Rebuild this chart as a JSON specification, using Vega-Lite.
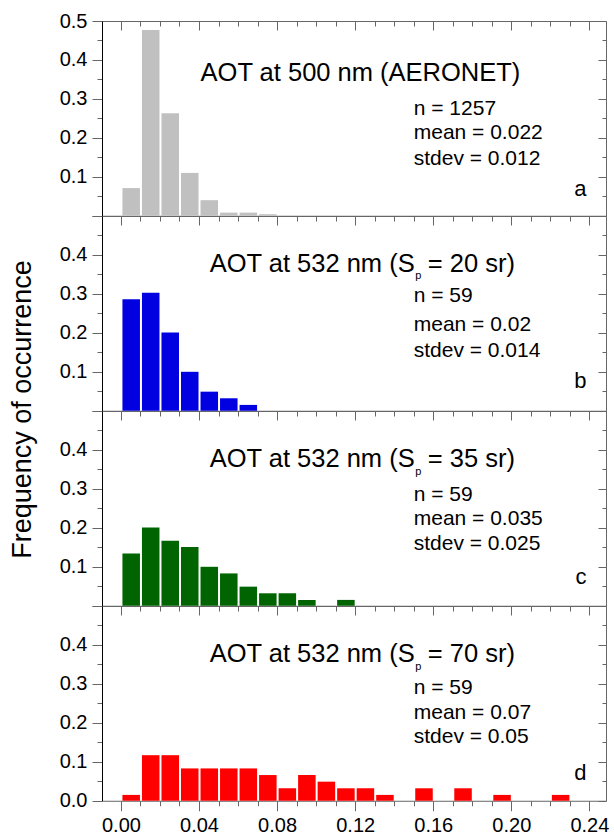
{
  "$schema": "https://vega.github.io/schema/vega-lite/v6.json",
  "background": "white",
  "padding": {"left": 7, "top": 10, "right": 4, "bottom": 0},
  "spacing": 0,
  "bounds": "flush",
  "config": {
    "view": {"stroke": "#666666", "strokeWidth": 1},
    "text": {"font": "Liberation Sans", "color": "black"},
    "axis": {"labelFont": "Liberation Sans", "titleFont": "Liberation Sans"}
  },
  "vconcat": [
    {
      "width": 504, "height": 194.75,
      "resolve": {"axis": {"x": "independent", "y": "independent"}},
      "layer": [
        {
          "data": {"values": [
            {"start": 0.00, "end": 0.01, "freq": 0.071},
            {"start": 0.01, "end": 0.02, "freq": 0.477},
            {"start": 0.02, "end": 0.03, "freq": 0.263},
            {"start": 0.03, "end": 0.04, "freq": 0.110},
            {"start": 0.04, "end": 0.05, "freq": 0.040},
            {"start": 0.05, "end": 0.06, "freq": 0.008},
            {"start": 0.06, "end": 0.07, "freq": 0.008},
            {"start": 0.07, "end": 0.08, "freq": 0.004}
          ]},
          "mark": {"type": "bar", "color": "#c0c0c0", "binSpacing": 2},
          "encoding": {
            "x": {"field": "start", "type": "quantitative", "bin": {"binned": true, "step": 0.01},
              "scale": {"domain": [-0.0097, 0.2485], "nice": false, "zero": false},
              "axis": {"orient": "top", "values": [0,0.01,0.02,0.03,0.04,0.05,0.06,0.07,0.08,0.09,0.1,0.11,0.12,0.13,0.14,0.15,0.16,0.17,0.18,0.19,0.2,0.21,0.22,0.23,0.24], "labels": false, "domain": false, "grid": false, "title": null, "tickColor": "#666666", "tickSize": {"condition": {"test": "round(datum.value*100)%4===0", "value": -9}, "value": -5}}},
            "x2": {"field": "end"},
            "y": {"field": "freq", "type": "quantitative",
              "scale": {"domain": [0, 0.5], "nice": false},
              "axis": {"orient": "left", "values": [0,0.05,0.1,0.15,0.2,0.25,0.3,0.35,0.4,0.45,0.5], "title": null, "grid": false, "domainColor": "black", "domainWidth": 1, "tickColor": "#666666", "tickSize": {"condition": {"test": "round(datum.value*100)%10===0", "value": 10}, "value": 5}, "labelExpr": "round(datum.value*100)%10===0 && datum.value>0.01 ? format(datum.value,'.1f') : ''", "labelFontSize": 20, "labelColor": "black", "labelPadding": 5, "labelOverlap": false, "labelFlush": false, "labelBound": false}}
          }
        },
        {
          "data": {"values": [
            {"x": 0.15, "y": 0.2595, "t": "n = 1257"},
            {"x": 0.15, "y": 0.197, "t": "mean = 0.022"},
            {"x": 0.15, "y": 0.131, "t": "stdev = 0.012"}
          ]},
          "mark": {"type": "text", "align": "left", "baseline": "alphabetic", "fontSize": 21},
          "encoding": {
            "x": {"field": "x", "type": "quantitative", "scale": {"domain": [-0.0097, 0.2485], "nice": false, "zero": false}, "axis": null},
            "y": {"field": "y", "type": "quantitative", "scale": {"domain": [0, 0.5], "nice": false},
              "axis": {"orient": "right", "values": [0,0.05,0.1,0.15,0.2,0.25,0.3,0.35,0.4,0.45,0.5], "title": null, "grid": false, "domain": false, "labels": false, "tickColor": "#666666", "tickSize": {"condition": {"test": "round(datum.value*100)%10===0", "value": -8}, "value": -4}}},
            "text": {"field": "t"}
          }
        },
        {
          "data": {"values": [{"x": 0.1227, "y": 0.345, "t": "AOT at 500 nm (AERONET)"}]},
          "mark": {"type": "text", "align": "center", "baseline": "alphabetic", "fontSize": 25.5},
          "encoding": {
            "x": {"field": "x", "type": "quantitative", "scale": {"domain": [-0.0097, 0.2485], "nice": false, "zero": false}, "axis": null},
            "y": {"field": "y", "type": "quantitative", "scale": {"domain": [0, 0.5], "nice": false}, "axis": null},
            "text": {"field": "t"}
          }
        },
        {
          "data": {"values": [{"x": 0.2385, "y": 0.051, "t": "a"}]},
          "mark": {"type": "text", "align": "right", "baseline": "alphabetic", "fontSize": 22},
          "encoding": {
            "x": {"field": "x", "type": "quantitative", "scale": {"domain": [-0.0097, 0.2485], "nice": false, "zero": false}, "axis": null},
            "y": {"field": "y", "type": "quantitative", "scale": {"domain": [0, 0.5], "nice": false}, "axis": null},
            "text": {"field": "t"}
          }
        }
      ]
    },
    {
      "width": 504, "height": 194.75,
      "resolve": {"axis": {"x": "independent", "y": "independent"}},
      "layer": [
        {
          "data": {"values": [
            {"start": 0.00, "end": 0.01, "freq": 0.286},
            {"start": 0.01, "end": 0.02, "freq": 0.303},
            {"start": 0.02, "end": 0.03, "freq": 0.201},
            {"start": 0.03, "end": 0.04, "freq": 0.100},
            {"start": 0.04, "end": 0.05, "freq": 0.049},
            {"start": 0.05, "end": 0.06, "freq": 0.032},
            {"start": 0.06, "end": 0.07, "freq": 0.015}
          ]},
          "mark": {"type": "bar", "color": "#0000e0", "binSpacing": 2},
          "encoding": {
            "x": {"field": "start", "type": "quantitative", "bin": {"binned": true, "step": 0.01},
              "scale": {"domain": [-0.0097, 0.2485], "nice": false, "zero": false},
              "axis": {"orient": "top", "values": [0,0.01,0.02,0.03,0.04,0.05,0.06,0.07,0.08,0.09,0.1,0.11,0.12,0.13,0.14,0.15,0.16,0.17,0.18,0.19,0.2,0.21,0.22,0.23,0.24], "labels": false, "domain": false, "grid": false, "title": null, "tickColor": "#666666", "tickSize": {"condition": {"test": "round(datum.value*100)%4===0", "value": -9}, "value": -5}}},
            "x2": {"field": "end"},
            "y": {"field": "freq", "type": "quantitative",
              "scale": {"domain": [0, 0.5], "nice": false},
              "axis": {"orient": "left", "values": [0,0.05,0.1,0.15,0.2,0.25,0.3,0.35,0.4,0.45,0.5], "title": "Frequency of occurrence", "titleFontSize": 27, "titleFontWeight": "normal", "titleColor": "black", "titleX": -66, "titleY": 193, "grid": false, "domainColor": "black", "domainWidth": 1, "tickColor": "#666666", "tickSize": {"condition": {"test": "round(datum.value*100)%10===0", "value": 10}, "value": 5}, "labelExpr": "round(datum.value*100)%10===0 && datum.value>0.01 && datum.value<0.49 ? format(datum.value,'.1f') : ''", "labelFontSize": 20, "labelColor": "black", "labelPadding": 5, "labelOverlap": false, "labelFlush": false, "labelBound": false}}
          }
        },
        {
          "data": {"values": [
            {"x": 0.15, "y": 0.279, "t": "n = 59"},
            {"x": 0.15, "y": 0.204, "t": "mean = 0.02"},
            {"x": 0.15, "y": 0.137, "t": "stdev = 0.014"}
          ]},
          "mark": {"type": "text", "align": "left", "baseline": "alphabetic", "fontSize": 21},
          "encoding": {
            "x": {"field": "x", "type": "quantitative", "scale": {"domain": [-0.0097, 0.2485], "nice": false, "zero": false}, "axis": null},
            "y": {"field": "y", "type": "quantitative", "scale": {"domain": [0, 0.5], "nice": false},
              "axis": {"orient": "right", "values": [0,0.05,0.1,0.15,0.2,0.25,0.3,0.35,0.4,0.45,0.5], "title": null, "grid": false, "domain": false, "labels": false, "tickColor": "#666666", "tickSize": {"condition": {"test": "round(datum.value*100)%10===0", "value": -8}, "value": -4}}},
            "text": {"field": "t"}
          }
        },
        {
          "data": {"values": [{"x": 0.1505, "y": 0.356, "t": "AOT at 532 nm (S"}]},
          "mark": {"type": "text", "align": "right", "baseline": "alphabetic", "fontSize": 25.5},
          "encoding": {
            "x": {"field": "x", "type": "quantitative", "scale": {"domain": [-0.0097, 0.2485], "nice": false, "zero": false}, "axis": null},
            "y": {"field": "y", "type": "quantitative", "scale": {"domain": [0, 0.5], "nice": false}, "axis": null},
            "text": {"field": "t"}
          }
        },
        {
          "data": {"values": [{"x": 0.1505, "y": 0.356, "t": "p"}]},
          "mark": {"type": "text", "align": "left", "baseline": "alphabetic", "fontSize": 11, "dx": 0.5, "dy": 7},
          "encoding": {
            "x": {"field": "x", "type": "quantitative", "scale": {"domain": [-0.0097, 0.2485], "nice": false, "zero": false}, "axis": null},
            "y": {"field": "y", "type": "quantitative", "scale": {"domain": [0, 0.5], "nice": false}, "axis": null},
            "text": {"field": "t"}
          }
        },
        {
          "data": {"values": [{"x": 0.1572, "y": 0.356, "t": "= 20 sr)"}]},
          "mark": {"type": "text", "align": "left", "baseline": "alphabetic", "fontSize": 25.5},
          "encoding": {
            "x": {"field": "x", "type": "quantitative", "scale": {"domain": [-0.0097, 0.2485], "nice": false, "zero": false}, "axis": null},
            "y": {"field": "y", "type": "quantitative", "scale": {"domain": [0, 0.5], "nice": false}, "axis": null},
            "text": {"field": "t"}
          }
        },
        {
          "data": {"values": [{"x": 0.2385, "y": 0.058, "t": "b"}]},
          "mark": {"type": "text", "align": "right", "baseline": "alphabetic", "fontSize": 22},
          "encoding": {
            "x": {"field": "x", "type": "quantitative", "scale": {"domain": [-0.0097, 0.2485], "nice": false, "zero": false}, "axis": null},
            "y": {"field": "y", "type": "quantitative", "scale": {"domain": [0, 0.5], "nice": false}, "axis": null},
            "text": {"field": "t"}
          }
        }
      ]
    },
    {
      "width": 504, "height": 194.75,
      "resolve": {"axis": {"x": "independent", "y": "independent"}},
      "layer": [
        {
          "data": {"values": [
            {"start": 0.00, "end": 0.01, "freq": 0.134},
            {"start": 0.01, "end": 0.02, "freq": 0.201},
            {"start": 0.02, "end": 0.03, "freq": 0.167},
            {"start": 0.03, "end": 0.04, "freq": 0.151},
            {"start": 0.04, "end": 0.05, "freq": 0.100},
            {"start": 0.05, "end": 0.06, "freq": 0.083},
            {"start": 0.06, "end": 0.07, "freq": 0.049},
            {"start": 0.07, "end": 0.08, "freq": 0.032},
            {"start": 0.08, "end": 0.09, "freq": 0.032},
            {"start": 0.09, "end": 0.10, "freq": 0.015},
            {"start": 0.11, "end": 0.12, "freq": 0.015}
          ]},
          "mark": {"type": "bar", "color": "#006400", "binSpacing": 2},
          "encoding": {
            "x": {"field": "start", "type": "quantitative", "bin": {"binned": true, "step": 0.01},
              "scale": {"domain": [-0.0097, 0.2485], "nice": false, "zero": false},
              "axis": {"orient": "top", "values": [0,0.01,0.02,0.03,0.04,0.05,0.06,0.07,0.08,0.09,0.1,0.11,0.12,0.13,0.14,0.15,0.16,0.17,0.18,0.19,0.2,0.21,0.22,0.23,0.24], "labels": false, "domain": false, "grid": false, "title": null, "tickColor": "#666666", "tickSize": {"condition": {"test": "round(datum.value*100)%4===0", "value": -9}, "value": -5}}},
            "x2": {"field": "end"},
            "y": {"field": "freq", "type": "quantitative",
              "scale": {"domain": [0, 0.5], "nice": false},
              "axis": {"orient": "left", "values": [0,0.05,0.1,0.15,0.2,0.25,0.3,0.35,0.4,0.45,0.5], "title": null, "grid": false, "domainColor": "black", "domainWidth": 1, "tickColor": "#666666", "tickSize": {"condition": {"test": "round(datum.value*100)%10===0", "value": 10}, "value": 5}, "labelExpr": "round(datum.value*100)%10===0 && datum.value>0.01 && datum.value<0.49 ? format(datum.value,'.1f') : ''", "labelFontSize": 20, "labelColor": "black", "labelPadding": 5, "labelOverlap": false, "labelFlush": false, "labelBound": false}}
          }
        },
        {
          "data": {"values": [
            {"x": 0.15, "y": 0.27, "t": "n = 59"},
            {"x": 0.15, "y": 0.2075, "t": "mean = 0.035"},
            {"x": 0.15, "y": 0.143, "t": "stdev = 0.025"}
          ]},
          "mark": {"type": "text", "align": "left", "baseline": "alphabetic", "fontSize": 21},
          "encoding": {
            "x": {"field": "x", "type": "quantitative", "scale": {"domain": [-0.0097, 0.2485], "nice": false, "zero": false}, "axis": null},
            "y": {"field": "y", "type": "quantitative", "scale": {"domain": [0, 0.5], "nice": false},
              "axis": {"orient": "right", "values": [0,0.05,0.1,0.15,0.2,0.25,0.3,0.35,0.4,0.45,0.5], "title": null, "grid": false, "domain": false, "labels": false, "tickColor": "#666666", "tickSize": {"condition": {"test": "round(datum.value*100)%10===0", "value": -8}, "value": -4}}},
            "text": {"field": "t"}
          }
        },
        {
          "data": {"values": [{"x": 0.1505, "y": 0.357, "t": "AOT at 532 nm (S"}]},
          "mark": {"type": "text", "align": "right", "baseline": "alphabetic", "fontSize": 25.5},
          "encoding": {
            "x": {"field": "x", "type": "quantitative", "scale": {"domain": [-0.0097, 0.2485], "nice": false, "zero": false}, "axis": null},
            "y": {"field": "y", "type": "quantitative", "scale": {"domain": [0, 0.5], "nice": false}, "axis": null},
            "text": {"field": "t"}
          }
        },
        {
          "data": {"values": [{"x": 0.1505, "y": 0.357, "t": "p"}]},
          "mark": {"type": "text", "align": "left", "baseline": "alphabetic", "fontSize": 11, "dx": 0.5, "dy": 8},
          "encoding": {
            "x": {"field": "x", "type": "quantitative", "scale": {"domain": [-0.0097, 0.2485], "nice": false, "zero": false}, "axis": null},
            "y": {"field": "y", "type": "quantitative", "scale": {"domain": [0, 0.5], "nice": false}, "axis": null},
            "text": {"field": "t"}
          }
        },
        {
          "data": {"values": [{"x": 0.1572, "y": 0.357, "t": "= 35 sr)"}]},
          "mark": {"type": "text", "align": "left", "baseline": "alphabetic", "fontSize": 25.5},
          "encoding": {
            "x": {"field": "x", "type": "quantitative", "scale": {"domain": [-0.0097, 0.2485], "nice": false, "zero": false}, "axis": null},
            "y": {"field": "y", "type": "quantitative", "scale": {"domain": [0, 0.5], "nice": false}, "axis": null},
            "text": {"field": "t"}
          }
        },
        {
          "data": {"values": [{"x": 0.2385, "y": 0.056, "t": "c"}]},
          "mark": {"type": "text", "align": "right", "baseline": "alphabetic", "fontSize": 22},
          "encoding": {
            "x": {"field": "x", "type": "quantitative", "scale": {"domain": [-0.0097, 0.2485], "nice": false, "zero": false}, "axis": null},
            "y": {"field": "y", "type": "quantitative", "scale": {"domain": [0, 0.5], "nice": false}, "axis": null},
            "text": {"field": "t"}
          }
        }
      ]
    },
    {
      "width": 504, "height": 194.75,
      "resolve": {"axis": {"x": "independent", "y": "independent"}},
      "layer": [
        {
          "data": {"values": [
            {"start": 0.00, "end": 0.01, "freq": 0.015},
            {"start": 0.01, "end": 0.02, "freq": 0.117},
            {"start": 0.02, "end": 0.03, "freq": 0.117},
            {"start": 0.03, "end": 0.04, "freq": 0.083},
            {"start": 0.04, "end": 0.05, "freq": 0.083},
            {"start": 0.05, "end": 0.06, "freq": 0.083},
            {"start": 0.06, "end": 0.07, "freq": 0.083},
            {"start": 0.07, "end": 0.08, "freq": 0.066},
            {"start": 0.08, "end": 0.09, "freq": 0.032},
            {"start": 0.09, "end": 0.10, "freq": 0.066},
            {"start": 0.10, "end": 0.11, "freq": 0.049},
            {"start": 0.11, "end": 0.12, "freq": 0.032},
            {"start": 0.12, "end": 0.13, "freq": 0.032},
            {"start": 0.13, "end": 0.14, "freq": 0.015},
            {"start": 0.15, "end": 0.16, "freq": 0.032},
            {"start": 0.17, "end": 0.18, "freq": 0.032},
            {"start": 0.19, "end": 0.20, "freq": 0.015},
            {"start": 0.22, "end": 0.23, "freq": 0.015}
          ]},
          "mark": {"type": "bar", "color": "#ff0000", "binSpacing": 2},
          "encoding": {
            "x": {"field": "start", "type": "quantitative", "bin": {"binned": true, "step": 0.01},
              "scale": {"domain": [-0.0097, 0.2485], "nice": false, "zero": false},
              "axis": {"orient": "top", "values": [0,0.01,0.02,0.03,0.04,0.05,0.06,0.07,0.08,0.09,0.1,0.11,0.12,0.13,0.14,0.15,0.16,0.17,0.18,0.19,0.2,0.21,0.22,0.23,0.24], "labels": false, "domain": false, "grid": false, "title": null, "tickColor": "#666666", "tickSize": {"condition": {"test": "round(datum.value*100)%4===0", "value": -9}, "value": -5}}},
            "x2": {"field": "end"},
            "y": {"field": "freq", "type": "quantitative",
              "scale": {"domain": [0, 0.5], "nice": false},
              "axis": {"orient": "left", "values": [0,0.05,0.1,0.15,0.2,0.25,0.3,0.35,0.4,0.45,0.5], "title": null, "grid": false, "domainColor": "black", "domainWidth": 1, "tickColor": "#666666", "tickSize": {"condition": {"test": "round(datum.value*100)%10===0", "value": 10}, "value": 5}, "labelExpr": "round(datum.value*100)%10===0 && datum.value<0.49 ? format(datum.value,'.1f') : ''", "labelFontSize": 20, "labelColor": "black", "labelPadding": 5, "labelOverlap": false, "labelFlush": false, "labelBound": false}}
          }
        },
        {
          "data": {"values": [
            {"x": 0.15, "y": 0.2735, "t": "n = 59"},
            {"x": 0.15, "y": 0.21, "t": "mean = 0.07"},
            {"x": 0.15, "y": 0.147, "t": "stdev = 0.05"}
          ]},
          "mark": {"type": "text", "align": "left", "baseline": "alphabetic", "fontSize": 21},
          "encoding": {
            "x": {"field": "x", "type": "quantitative", "scale": {"domain": [-0.0097, 0.2485], "nice": false, "zero": false},
              "axis": {"orient": "bottom", "values": [0,0.01,0.02,0.03,0.04,0.05,0.06,0.07,0.08,0.09,0.1,0.11,0.12,0.13,0.14,0.15,0.16,0.17,0.18,0.19,0.2,0.21,0.22,0.23,0.24], "domain": false, "grid": false, "title": null, "tickColor": "#666666", "tickSize": {"condition": {"test": "round(datum.value*100)%4===0", "value": 10}, "value": 5}, "labelExpr": "round(datum.value*100)%4===0 ? format(datum.value,'.2f') : ''", "labelFontSize": 20, "labelColor": "black", "labelPadding": 5, "labelOverlap": false, "labelFlush": false, "labelBound": false}},
            "y": {"field": "y", "type": "quantitative", "scale": {"domain": [0, 0.5], "nice": false},
              "axis": {"orient": "right", "values": [0,0.05,0.1,0.15,0.2,0.25,0.3,0.35,0.4,0.45,0.5], "title": null, "grid": false, "domain": false, "labels": false, "tickColor": "#666666", "tickSize": {"condition": {"test": "round(datum.value*100)%10===0", "value": -8}, "value": -4}}},
            "text": {"field": "t"}
          }
        },
        {
          "data": {"values": [{"x": 0.1505, "y": 0.357, "t": "AOT at 532 nm (S"}]},
          "mark": {"type": "text", "align": "right", "baseline": "alphabetic", "fontSize": 25.5},
          "encoding": {
            "x": {"field": "x", "type": "quantitative", "scale": {"domain": [-0.0097, 0.2485], "nice": false, "zero": false}, "axis": null},
            "y": {"field": "y", "type": "quantitative", "scale": {"domain": [0, 0.5], "nice": false}, "axis": null},
            "text": {"field": "t"}
          }
        },
        {
          "data": {"values": [{"x": 0.1505, "y": 0.357, "t": "p"}]},
          "mark": {"type": "text", "align": "left", "baseline": "alphabetic", "fontSize": 11, "dx": 0.5, "dy": 8},
          "encoding": {
            "x": {"field": "x", "type": "quantitative", "scale": {"domain": [-0.0097, 0.2485], "nice": false, "zero": false}, "axis": null},
            "y": {"field": "y", "type": "quantitative", "scale": {"domain": [0, 0.5], "nice": false}, "axis": null},
            "text": {"field": "t"}
          }
        },
        {
          "data": {"values": [{"x": 0.1572, "y": 0.357, "t": "= 70 sr)"}]},
          "mark": {"type": "text", "align": "left", "baseline": "alphabetic", "fontSize": 25.5},
          "encoding": {
            "x": {"field": "x", "type": "quantitative", "scale": {"domain": [-0.0097, 0.2485], "nice": false, "zero": false}, "axis": null},
            "y": {"field": "y", "type": "quantitative", "scale": {"domain": [0, 0.5], "nice": false}, "axis": null},
            "text": {"field": "t"}
          }
        },
        {
          "data": {"values": [{"x": 0.2385, "y": 0.054, "t": "d"}]},
          "mark": {"type": "text", "align": "right", "baseline": "alphabetic", "fontSize": 22},
          "encoding": {
            "x": {"field": "x", "type": "quantitative", "scale": {"domain": [-0.0097, 0.2485], "nice": false, "zero": false}, "axis": null},
            "y": {"field": "y", "type": "quantitative", "scale": {"domain": [0, 0.5], "nice": false}, "axis": null},
            "text": {"field": "t"}
          }
        }
      ]
    }
  ]
}
